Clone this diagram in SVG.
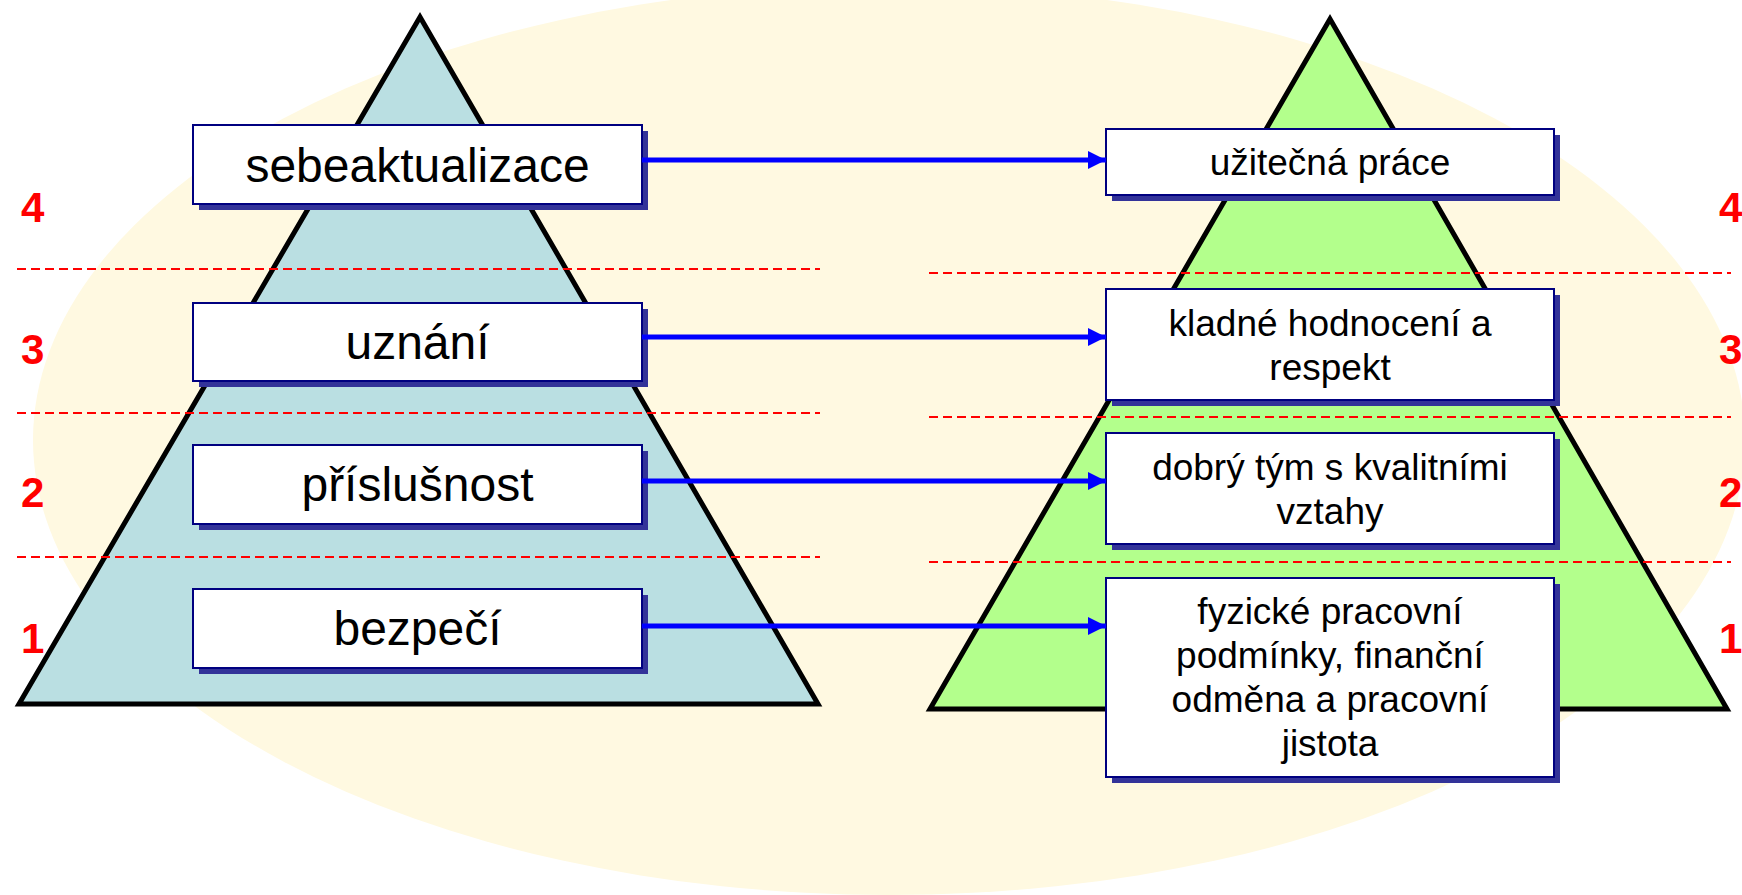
<svg xmlns="http://www.w3.org/2000/svg" width="1742" height="895" viewBox="0 0 1742 895">
  <defs>
    <style>
      .pyr { stroke: #000000; stroke-width: 5; stroke-linejoin: miter; }
      .lvl { stroke: #FF0000; stroke-width: 2; stroke-dasharray: 9 5; fill: none; }
      .num { font-family: "Liberation Sans", Arial, sans-serif; font-weight: bold; font-size: 42px; fill: #FF0000; }
      .shadow { fill: #333399; }
      .box { fill: #FFFFFF; stroke: #000080; stroke-width: 2; }
      .big { font-family: "Liberation Sans", Arial, sans-serif; font-size: 48px; fill: #000000; text-anchor: middle; }
      .small { font-family: "Liberation Sans", Arial, sans-serif; font-size: 37px; fill: #000000; text-anchor: middle; }
      .link { stroke: #0000FF; stroke-width: 5; fill: none; }
    </style>
    <marker id="head" markerUnits="userSpaceOnUse" markerWidth="18" markerHeight="18" refX="18" refY="9" orient="auto">
      <path d="M0,0 L18,9 L0,18 Z" fill="#0000FF"/>
    </marker>
  </defs>

  <!-- backdrop -->
  <ellipse cx="889" cy="440" rx="856" ry="455" fill="#FFF9E1"/>

  <!-- pyramids -->
  <polygon class="pyr" points="420,17 19,704 818,704" fill="#BADFE2"/>
  <polygon class="pyr" points="1330,19 930,709 1727,709" fill="#B3FF8C"/>

  <!-- level separators -->
  <g id="levels">
    <line class="lvl" x1="17" y1="269" x2="820" y2="269"/>
    <line class="lvl" x1="17" y1="413" x2="820" y2="413"/>
    <line class="lvl" x1="17" y1="557" x2="820" y2="557"/>
    <line class="lvl" x1="929" y1="273" x2="1731" y2="273"/>
    <line class="lvl" x1="929" y1="417" x2="1731" y2="417"/>
    <line class="lvl" x1="929" y1="562" x2="1731" y2="562"/>
  </g>

  <!-- level numbers -->
  <g id="numbers">
    <text class="num" x="21" y="222">4</text>
    <text class="num" x="21" y="364">3</text>
    <text class="num" x="21" y="507">2</text>
    <text class="num" x="21" y="653">1</text>
    <text class="num" x="1719" y="222">4</text>
    <text class="num" x="1719" y="364">3</text>
    <text class="num" x="1719" y="507">2</text>
    <text class="num" x="1719" y="653">1</text>
  </g>

  <!-- needs (left) -->
  <g id="sebeaktualizace">
    <rect class="shadow" x="199" y="131" width="449" height="79"/>
    <rect class="box" x="193" y="125" width="449" height="79"/>
    <text class="big" x="417.5" y="182">sebeaktualizace</text>
  </g>
  <g id="uznani">
    <rect class="shadow" x="199" y="309" width="449" height="78"/>
    <rect class="box" x="193" y="303" width="449" height="78"/>
    <text class="big" x="417.5" y="359">uznání</text>
  </g>
  <g id="prislusnost">
    <rect class="shadow" x="199" y="451" width="449" height="79"/>
    <rect class="box" x="193" y="445" width="449" height="79"/>
    <text class="big" x="417.5" y="501">příslušnost</text>
  </g>
  <g id="bezpeci">
    <rect class="shadow" x="199" y="595" width="449" height="79"/>
    <rect class="box" x="193" y="589" width="449" height="79"/>
    <text class="big" x="417.5" y="645">bezpečí</text>
  </g>

  <!-- work factors (right) -->
  <g id="uzitecna-prace">
    <rect class="shadow" x="1112" y="135" width="448" height="66"/>
    <rect class="box" x="1106" y="129" width="448" height="66"/>
    <text class="small" x="1330" y="175">užitečná práce</text>
  </g>
  <g id="kladne-hodnoceni">
    <rect class="shadow" x="1112" y="295" width="448" height="111"/>
    <rect class="box" x="1106" y="289" width="448" height="111"/>
    <text class="small" x="1330" y="336">kladné hodnocení a</text>
    <text class="small" x="1330" y="380">respekt</text>
  </g>
  <g id="dobry-tym">
    <rect class="shadow" x="1112" y="439" width="448" height="111"/>
    <rect class="box" x="1106" y="433" width="448" height="111"/>
    <text class="small" x="1330" y="480">dobrý tým s kvalitními</text>
    <text class="small" x="1330" y="524">vztahy</text>
  </g>
  <g id="fyzicke-podminky">
    <rect class="shadow" x="1112" y="584" width="448" height="199"/>
    <rect class="box" x="1106" y="578" width="448" height="199"/>
    <text class="small" x="1330" y="624">fyzické pracovní</text>
    <text class="small" x="1330" y="668">podmínky, finanční</text>
    <text class="small" x="1330" y="712">odměna a pracovní</text>
    <text class="small" x="1330" y="756">jistota</text>
  </g>

  <!-- connectors -->
  <g id="connectors">
    <line class="link" x1="642" y1="160" x2="1106" y2="160" marker-end="url(#head)"/>
    <line class="link" x1="642" y1="337" x2="1106" y2="337" marker-end="url(#head)"/>
    <line class="link" x1="642" y1="481" x2="1106" y2="481" marker-end="url(#head)"/>
    <line class="link" x1="642" y1="626" x2="1106" y2="626" marker-end="url(#head)"/>
  </g>
</svg>
